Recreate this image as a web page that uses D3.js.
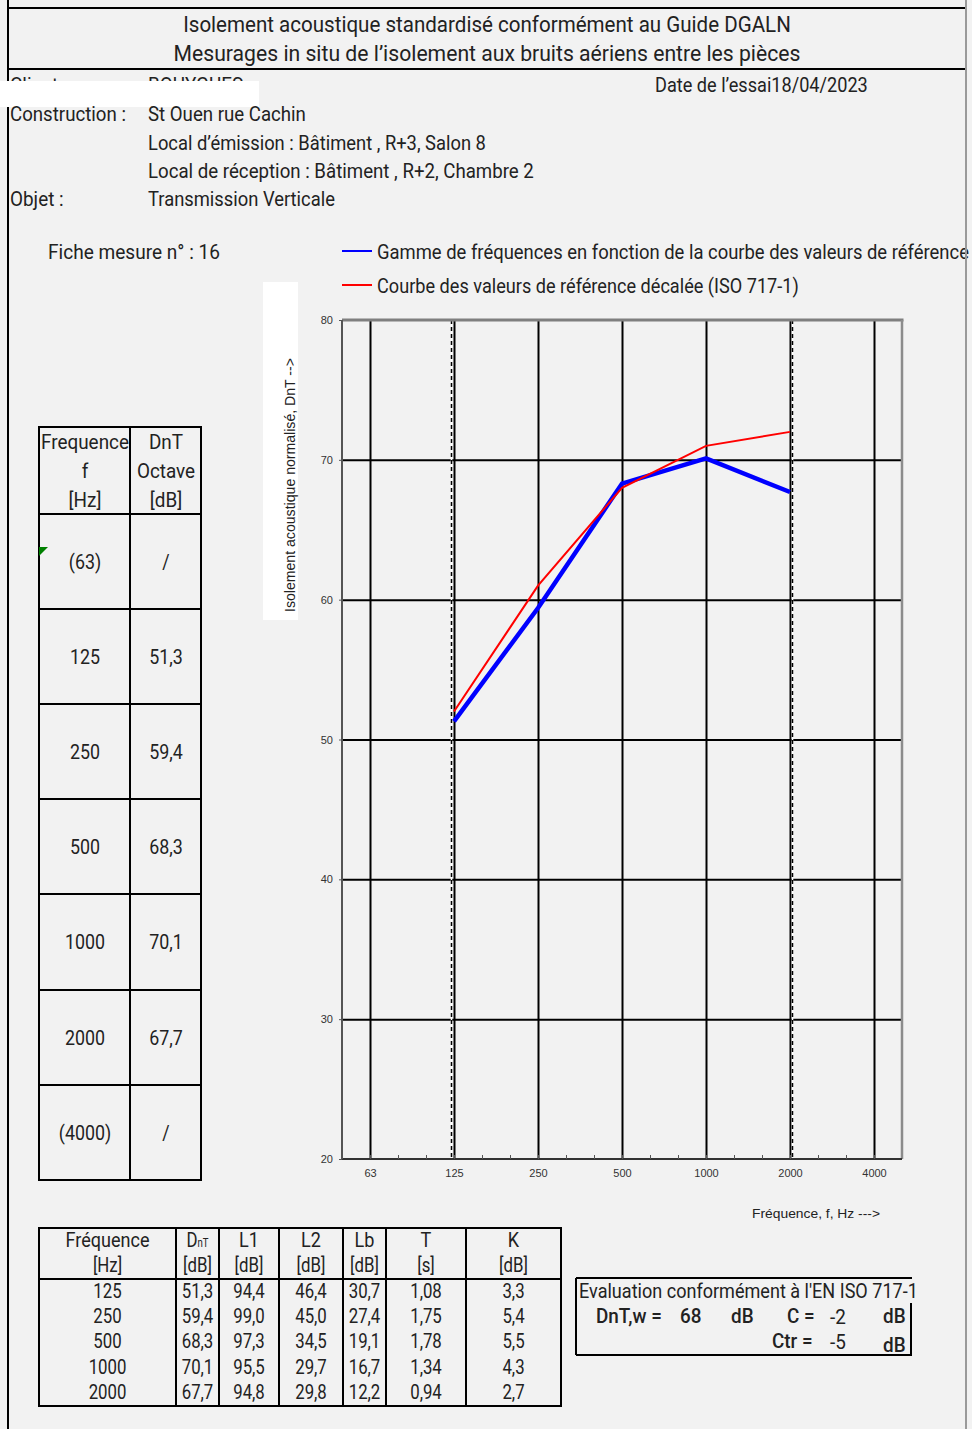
<!DOCTYPE html>
<html><head><meta charset="utf-8">
<script src="https://cdn.jsdelivr.net/npm/d3@7"></script>
<style>body{margin:0;background:#f2f2f2}svg{display:block}</style>
</head><body>
<script>
// ---------- data ----------
const bands = ["50","63","80","100","125","160","200","250","315","400","500","630","800","1000","1250","1600","2000","2500","3150","4000","5000"];
const octaveTicks = ["63","125","250","500","1000","2000","4000"];
const yTicks = [20,30,40,50,60,70,80];
const gridY = [30,40,50,60,70];
const freqs = ["125","250","500","1000","2000"];
const dnt = [51.3,59.4,68.3,70.1,67.7];
const refShifted = [52,61,68,71,72];
const L1 = [94.4,99.0,97.3,95.5,94.8];
const L2 = [46.4,45.0,34.5,29.7,29.8];
const Lb = [30.7,27.4,19.1,16.7,12.2];
const Tr = [1.08,1.75,1.78,1.34,0.94];
const K = [3.3,5.4,5.5,4.3,2.7];
const leftFreqLabels = ["(63)","125","250","500","1000","2000","(4000)"];
const leftDnT = [null,51.3,59.4,68.3,70.1,67.7,null];
const rangeBounds = ["125","2000"];
const titleLines = ["Isolement acoustique standardisé conformément au Guide DGALN","Mesurages in situ de l’isolement aux bruits aériens entre les pièces"];
const DnTw = 68, Cval = -2, Ctr = -5, ficheNo = 16;

const fr1 = v => d3.format(".1f")(v).replace(".", ",");
const fr2 = v => d3.format(".2f")(v).replace(".", ",");

const W = 972, H = 1429;
const svg = d3.select("body").append("svg").attr("width", W).attr("height", H);
const FONT = "Roboto, 'Noto Sans', sans-serif";
const INK = "#222";
const SX = 0.9;

function ct(sel, x, y, str, o = {}) {
  const size = o.size || 21;
  const t = sel.append("text")
    .attr("font-family", FONT)
    .attr("font-size", size)
    .attr("font-weight", o.weight || "normal")
    .attr("text-anchor", o.anchor || "start")
    .attr("fill", o.fill || INK);
  if (str !== null) t.text(str);
  let sx = o.sx || SX;
  if (o.w) sx = o.w / t.node().getComputedTextLength();
  t.attr("transform", `translate(${x},${y}) scale(${sx},1)`);
  return t;
}

// ---------- page frame ----------
svg.append("line").attr("x1", 8).attr("x2", 8).attr("y1", 0).attr("y2", H).attr("stroke", "#000").attr("stroke-width", 2);
svg.append("line").attr("x1", 8).attr("x2", 966).attr("y1", 8).attr("y2", 8).attr("stroke", "#000").attr("stroke-width", 2);
svg.append("line").attr("x1", 8).attr("x2", 966).attr("y1", 69).attr("y2", 69).attr("stroke", "#000").attr("stroke-width", 2);

ct(svg, 487, 32, titleLines[0], {size: 22, anchor: "middle", w: 608});
ct(svg, 487, 61, titleLines[1], {size: 22, anchor: "middle", w: 627});

// header info
ct(svg, 10, 92, "Client :");
ct(svg, 148, 92, "BOUYGUES");
svg.append("rect").attr("x", 0).attr("y", 81).attr("width", 259).attr("height", 26).attr("fill", "#fff");
ct(svg, 655, 92, "Date de l’essai18/04/2023", {w: 213});
ct(svg, 10, 121, "Construction :", {w: 116});
ct(svg, 148, 121, "St Ouen rue Cachin", {w: 158});
ct(svg, 148, 150, "Local d’émission : Bâtiment , R+3, Salon 8", {w: 338});
ct(svg, 148, 178, "Local de réception : Bâtiment , R+2, Chambre 2", {w: 386});
ct(svg, 10, 206, "Objet :");
ct(svg, 148, 206, "Transmission Verticale", {w: 187});
ct(svg, 48, 259, `Fiche mesure n° :  ${ficheNo}`, {w: 172});

// legend
svg.append("line").attr("x1", 342).attr("x2", 372).attr("y1", 251).attr("y2", 251).attr("stroke", "#0000ff").attr("stroke-width", 2);
ct(svg, 377, 259, "Gamme de fréquences en fonction de la courbe des valeurs de référence", {w: 592});
svg.append("line").attr("x1", 342).attr("x2", 372).attr("y1", 285).attr("y2", 285).attr("stroke", "#ff0000").attr("stroke-width", 2);
ct(svg, 377, 293, "Courbe des valeurs de référence décalée (ISO 717-1)", {w: 422});
svg.append("line").attr("x1", 966).attr("x2", 966).attr("y1", 0).attr("y2", H).attr("stroke", "#9a9a9a").attr("stroke-width", 2);

// ---------- chart ----------
const L = 342, R = 902, T = 320, B = 1159;
const x = d3.scalePoint().domain(bands).range([L, R]);
const y = d3.scaleLinear().domain([20, 80]).range([B, T]);
const g = svg.append("g");

// vertical octave grid
g.append("g").attr("transform", `translate(0,${B})`)
  .call(d3.axisBottom(x).tickValues(octaveTicks).tickSize(-(B - T)).tickFormat(""))
  .call(s => s.select(".domain").remove())
  .call(s => s.selectAll("line").attr("stroke", "#000").attr("stroke-width", 2));
// horizontal grid
g.append("g").attr("transform", `translate(${L},0)`)
  .call(d3.axisLeft(y).tickValues(gridY).tickSize(-(R - L)).tickFormat(""))
  .call(s => s.select(".domain").remove())
  .call(s => s.selectAll("line").attr("stroke", "#000").attr("stroke-width", 2));

// dashed measurement-range lines
rangeBounds.forEach((f, i) => {
  const xx = x(f) + (i === 0 ? -2.5 : 2.5);
  g.append("line").attr("x1", xx).attr("x2", xx).attr("y1", T).attr("y2", B).attr("stroke", "#fff").attr("stroke-width", 1.5);
  g.append("line").attr("x1", xx).attr("x2", xx).attr("y1", T).attr("y2", B).attr("stroke", "#000").attr("stroke-width", 1.5).attr("stroke-dasharray", "4,3");
});

// frame: top and right gray
g.append("line").attr("x1", L).attr("x2", R + 1.5).attr("y1", T).attr("y2", T).attr("stroke", "#7f7f7f").attr("stroke-width", 3);
g.append("line").attr("x1", R).attr("x2", R).attr("y1", T).attr("y2", B).attr("stroke", "#8c8c8c").attr("stroke-width", 2.5);

// bottom axis: minor ticks + labels
const xa = g.append("g").attr("transform", `translate(0,${B})`)
  .call(d3.axisBottom(x).tickValues(bands.slice(1, -1)).tickSize(-4).tickFormat(""));
xa.select(".domain").attr("stroke", "#333").attr("stroke-width", 2).attr("d", `M${L},0H${R}`);
xa.selectAll("line").attr("stroke", "#555").attr("stroke-width", 1);
const xl = g.append("g").attr("transform", `translate(0,${B})`)
  .call(d3.axisBottom(x).tickValues(octaveTicks).tickSize(0).tickPadding(10));
xl.select(".domain").remove();
xl.selectAll("text").attr("font-family", "'Liberation Sans', Arial, sans-serif").attr("font-size", 11).attr("fill", "#333");

// left axis
const ya = g.append("g").attr("transform", `translate(${L},0)`)
  .call(d3.axisLeft(y).tickValues(yTicks).tickSize(3).tickPadding(6));
ya.select(".domain").attr("stroke", "#555").attr("stroke-width", 2).attr("d", `M0,${T}V${B}`);
ya.selectAll("line").attr("stroke", "#555");
ya.selectAll("text").attr("font-family", "'Liberation Sans', Arial, sans-serif").attr("font-size", 11).attr("fill", "#333");

// data lines
const line = d3.line().x(d => x(d[0])).y(d => y(d[1]));
g.append("path").datum(freqs.map((f, i) => [f, dnt[i]])).attr("d", line)
  .attr("fill", "none").attr("stroke", "#0000ff").attr("stroke-width", 4.5);
g.append("path").datum(freqs.map((f, i) => [f, refShifted[i]])).attr("d", line)
  .attr("fill", "none").attr("stroke", "#ff0000").attr("stroke-width", 2);

// axis titles
svg.append("rect").attr("x", 263).attr("y", 282).attr("width", 35).attr("height", 338).attr("fill", "#fff");
svg.append("text").attr("transform", "translate(295,612) rotate(-90)")
  .attr("font-family", "'Liberation Sans', Arial, sans-serif").attr("font-size", 14).attr("fill", INK)
  .attr("textLength", 254).attr("lengthAdjust", "spacingAndGlyphs")
  .text("Isolement acoustique normalisé,  DnT  -->");
svg.append("text").attr("x", 752).attr("y", 1218)
  .attr("font-family", "'Liberation Sans', Arial, sans-serif").attr("font-size", 13.5).attr("fill", INK)
  .attr("textLength", 128).attr("lengthAdjust", "spacingAndGlyphs")
  .text("Fréquence, f, Hz --->");

// ---------- left table ----------
const lt = svg.append("g");
const ltX = [39, 130, 201];
const ltY = [427, 514, 609, 704, 799, 894, 990, 1085, 1180];
ltX.forEach(xx => lt.append("line").attr("x1", xx).attr("x2", xx).attr("y1", ltY[0]).attr("y2", ltY[ltY.length - 1]).attr("stroke", "#000").attr("stroke-width", 2));
ltY.forEach(yy => lt.append("line").attr("x1", ltX[0] - 1).attr("x2", ltX[2] + 1).attr("y1", yy).attr("y2", yy).attr("stroke", "#000").attr("stroke-width", 2));
[["Frequence", "DnT"], ["f", "Octave"], ["[Hz]", "[dB]"]].forEach((r, i) => {
  ct(lt, 85, 449 + i * 29, r[0], {anchor: "middle"});
  ct(lt, 166, 449 + i * 29, r[1], {anchor: "middle"});
});
leftFreqLabels.forEach((lab, i) => {
  const cy = (ltY[i + 1] + ltY[i + 2]) / 2 + 7;
  ct(lt, 85, cy, lab, {anchor: "middle", sx: 0.85});
  ct(lt, 166, cy, leftDnT[i] === null ? "/" : fr1(leftDnT[i]), {anchor: "middle", sx: 0.85});
});
lt.append("path").attr("d", "M39,547L48,547L39,556Z").attr("fill", "#008000");

// ---------- bottom table ----------
const bt = svg.append("g");
const btX = [39, 176, 219, 279, 343, 386, 466, 561];
const btTop = 1228, btHead = 1279, btBot = 1406;
btX.forEach(xx => bt.append("line").attr("x1", xx).attr("x2", xx).attr("y1", btTop).attr("y2", btBot).attr("stroke", "#000").attr("stroke-width", 2));
[btTop, btHead, btBot].forEach(yy => bt.append("line").attr("x1", btX[0] - 1).attr("x2", btX[7] + 1).attr("y1", yy).attr("y2", yy).attr("stroke", "#000").attr("stroke-width", 2));
const cx = btX.slice(0, -1).map((v, i) => (v + btX[i + 1]) / 2);
const heads1 = ["Fréquence", null, "L1", "L2", "Lb", "T", "K"];
const heads2 = ["[Hz]", "[dB]", "[dB]", "[dB]", "[dB]", "[s]", "[dB]"];
heads1.forEach((h, i) => {
  if (h === null) {
    const t = ct(bt, cx[i], 1247, null, {anchor: "middle", sx: 0.8});
    t.append("tspan").text("D");
    t.append("tspan").attr("font-size", 12).text("nT");
  } else ct(bt, cx[i], 1247, h, {anchor: "middle", sx: 0.86});
  ct(bt, cx[i], 1272, heads2[i], {anchor: "middle", sx: 0.8});
});
freqs.forEach((f, r) => {
  const yy = 1298 + r * 25.2;
  const row = [f, fr1(dnt[r]), fr1(L1[r]), fr1(L2[r]), fr1(Lb[r]), fr2(Tr[r]), fr1(K[r])];
  row.forEach((v, i) => ct(bt, cx[i], yy, v, {anchor: "middle", sx: 0.8}));
});

// ---------- evaluation box ----------
const ev = svg.append("g");
ev.append("line").attr("x1", 576).attr("x2", 912).attr("y1", 1278).attr("y2", 1278).attr("stroke", "#000").attr("stroke-width", 2);
ev.append("line").attr("x1", 576).attr("x2", 912).attr("y1", 1355).attr("y2", 1355).attr("stroke", "#000").attr("stroke-width", 2);
ev.append("line").attr("x1", 576).attr("x2", 576).attr("y1", 1278).attr("y2", 1355).attr("stroke", "#000").attr("stroke-width", 2);
ev.append("line").attr("x1", 911).attr("x2", 911).attr("y1", 1303).attr("y2", 1355).attr("stroke", "#000").attr("stroke-width", 2);
ct(ev, 579, 1298, "Evaluation conformément à l'EN ISO 717-1", {w: 339});
ct(ev, 596, 1323, "DnT,w =", {weight: "500"});
ct(ev, 680, 1323, String(DnTw), {weight: "500"});
ct(ev, 731, 1323, "dB", {weight: "500"});
ct(ev, 787, 1323, "C =", {weight: "500"});
ct(ev, 830, 1324, String(Cval));
ct(ev, 883, 1323, "dB", {weight: "500"});
ct(ev, 772, 1348, "Ctr =", {weight: "500"});
ct(ev, 830, 1349, String(Ctr));
ct(ev, 883, 1352, "dB", {weight: "500"});
</script>
</body></html>
